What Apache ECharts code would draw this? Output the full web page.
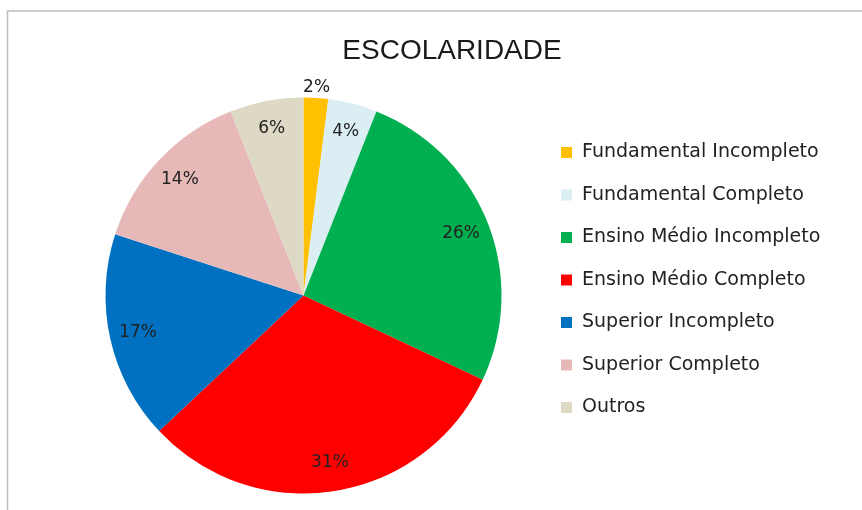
<!DOCTYPE html>
<html>
<head>
<meta charset="utf-8">
<script src="https://cdn.jsdelivr.net/npm/echarts@6/dist/echarts.min.js"></script>
<style>
  html, body { margin: 0; padding: 0; background: #fff; }
  #chart { width: 862px; height: 510px; }
</style>
</head>
<body>
<div id="chart"></div>
<script>
const categories = [
  'Fundamental Incompleto',
  'Fundamental Completo',
  'Ensino Médio Incompleto',
  'Ensino Médio Completo',
  'Superior Incompleto',
  'Superior Completo',
  'Outros'
];
const values = [2, 4, 26, 31, 17, 14, 6];
const colors = ['#FFC000', '#DAEEF3', '#00B050', '#FF0000', '#0070C0', '#E6B9B8', '#DDD9C4'];

const pieData = categories.map((name, i) => ({ name, value: values[i] }));
const labelData = categories.map((name, i) => {
  const item = { name, value: values[i] };
  if (i === 0) {
    item.label = { position: 'outside', distanceToLabelLine: 0 };
    item.labelLine = { show: false, length: 10, length2: 0 };
  }
  return item;
});

const CENTER = [303.5, 295.5];
const R = 198;
const textColor = '#222';

const chart = echarts.init(document.getElementById('chart'));
chart.setOption({
  backgroundColor: '#fff',
  color: colors,
  animation: false,
  graphic: [{
    type: 'rect',
    shape: { x: 7.5, y: 11, width: 900, height: 600 },
    style: { fill: 'none', stroke: '#bdbdbd', lineWidth: 1.5 },
    silent: true
  }],
  title: {
    text: 'ESCOLARIDADE',
    left: 447,
    top: 32,
    textAlign: 'center',
    textStyle: {
      fontFamily: 'Liberation Sans',
      fontSize: 28,
      fontWeight: 'normal',
      color: '#1a1a1a'
    }
  },
  legend: {
    orient: 'vertical',
    left: 556,
    top: 137,
    itemWidth: 11,
    itemHeight: 11,
    itemGap: 21.5,
    icon: 'rect',
    data: categories,
    textStyle: {
      fontFamily: 'DejaVu Sans',
      fontSize: 19,
      lineHeight: 21,
      color: textColor,
      padding: [0, 0, 0, 5]
    }
  },
  series: [
    {
      type: 'pie',
      center: CENTER,
      radius: [0, R],
      startAngle: 90,
      clockwise: true,
      silent: true,
      avoidLabelOverlap: false,
      label: { show: false },
      labelLine: { show: false },
      itemStyle: { borderWidth: 0 },
      data: pieData
    },
    {
      type: 'pie',
      center: CENTER,
      radius: [135, R],
      startAngle: 90,
      clockwise: true,
      silent: true,
      avoidLabelOverlap: false,
      itemStyle: { color: 'rgba(0,0,0,0)', borderWidth: 0 },
      label: {
        show: true,
        position: 'inside',
        formatter: '{c}%',
        fontFamily: 'DejaVu Sans',
        fontSize: 17,
        color: textColor
      },
      labelLine: { show: false },
      labelLayout: function (params) {
        return params.dataIndex === 0 ? { align: 'center' } : {};
      },
      data: labelData
    }
  ]
});
</script>
</body>
</html>
